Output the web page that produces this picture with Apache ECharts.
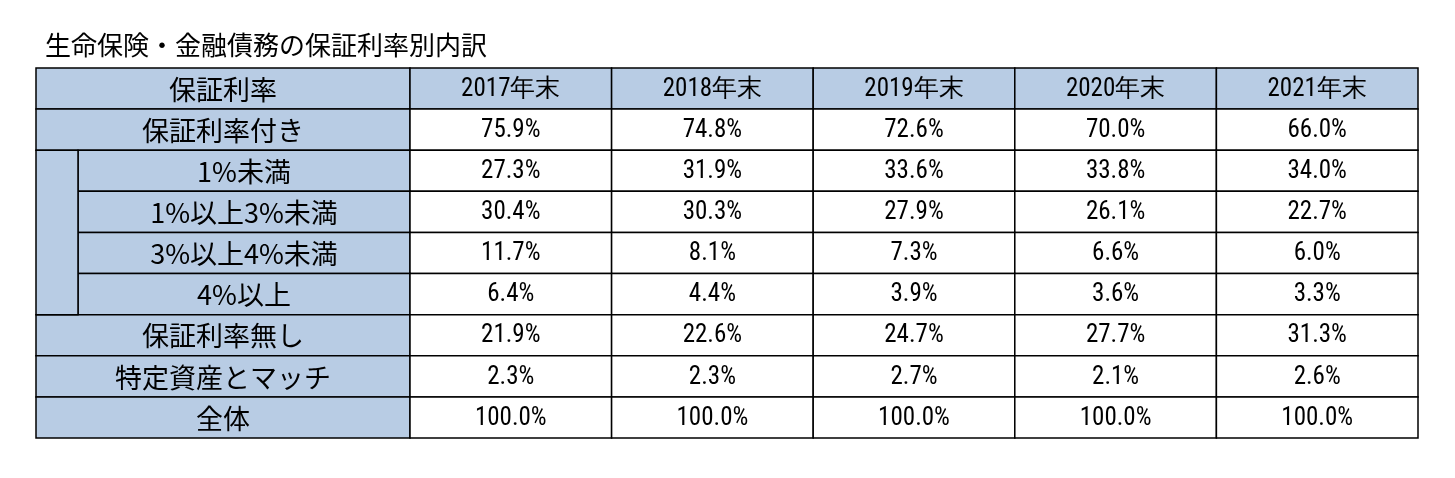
<!DOCTYPE html>
<html><head><meta charset="utf-8">
<script src="https://cdn.jsdelivr.net/npm/echarts@6/dist/echarts.min.js"></script>
<style>html,body{margin:0;background:#fff}#c{width:1455px;height:478px}</style>
</head><body><div id="c"></div>
<script>
const title = '生命保険・金融債務の保証利率別内訳';
const headerLabel = '保証利率';
const years = ['2017年末','2018年末','2019年末','2020年末','2021年末'];
const rowLabels = ['保証利率付き','1%未満','1%以上3%未満','3%以上4%未満','4%以上','保証利率無し','特定資産とマッチ','全体'];
const indented = [false,true,true,true,true,false,false,false];
const withRate = [75.9,74.8,72.6,70.0,66.0];
const under1 = [27.3,31.9,33.6,33.8,34.0];
const from1to3 = [30.4,30.3,27.9,26.1,22.7];
const from3to4 = [11.7,8.1,7.3,6.6,6.0];
const over4 = [6.4,4.4,3.9,3.6,3.3];
const noRate = [21.9,22.6,24.7,27.7,31.3];
const matched = [2.3,2.3,2.7,2.1,2.6];
const total = [100.0,100.0,100.0,100.0,100.0];
const rows = [withRate,under1,from1to3,from3to4,over4,noRate,matched,total];

const BLUE = '#b8cce4';
const labelW = 374, yearW = 201.6, indentW = 42;
const cells = [];
cells.push([0, labelW, 0, 1, headerLabel, BLUE, 'jp']);
years.forEach((y,i)=>cells.push([labelW+i*yearW, labelW+(i+1)*yearW, 0, 1, y, BLUE, 'num']));
rows.forEach((vals,r)=>{
  const x0 = indented[r] ? indentW : 0;
  cells.push([x0, labelW, r+1, r+2, rowLabels[r], BLUE, 'jp']);
  vals.forEach((v,i)=>cells.push([labelW+i*yearW, labelW+(i+1)*yearW, r+1, r+2, v.toFixed(1)+'%', '#fff', 'num']));
});
const first = indented.indexOf(true), last = indented.lastIndexOf(true);
cells.push([0, indentW, first+1, last+2, '', BLUE, 'jp']);

const chart = echarts.init(document.getElementById('c'));
chart.setOption({
  animation:false,
  title:{text:title,left:40,top:27,textStyle:{fontFamily:'Noto Sans CJK JP',fontSize:26,fontWeight:'normal',color:'#000'}},
  grid:{left:36,top:68,width:labelW+5*yearW,height:370},
  xAxis:{type:'value',min:0,max:labelW+5*yearW,show:false},
  yAxis:{type:'value',min:0,max:9,inverse:true,show:false},
  series:[{
    type:'custom',
    data:cells,
    encode:{x:[0,1],y:[2,3]},
    renderItem:(params,api)=>{
      const p0 = api.coord([api.value(0), api.value(2)]);
      const p1 = api.coord([api.value(1), api.value(3)]);
      const d = cells[params.dataIndex];
      const isJp = d[6]==='jp';
      return {type:'group',children:[
        {type:'rect',shape:{x:p0[0],y:p0[1],width:p1[0]-p0[0],height:p1[1]-p0[1]},
         style:{fill:d[5],stroke:'#000',lineWidth:1.5}},
        {type:'text',style:{text:d[4],x:(p0[0]+p1[0])/2,y:(p0[1]+p1[1])/2+1,align:'center',verticalAlign:'middle',
          fill:'#000',fontSize:isJp?27:25,fontFamily:isJp?'Noto Sans CJK JP':'"Liberation Sans Narrow","Roboto Condensed","Liberation Sans",sans-serif'}}
      ]};
    }
  }]
});
</script></body></html>
